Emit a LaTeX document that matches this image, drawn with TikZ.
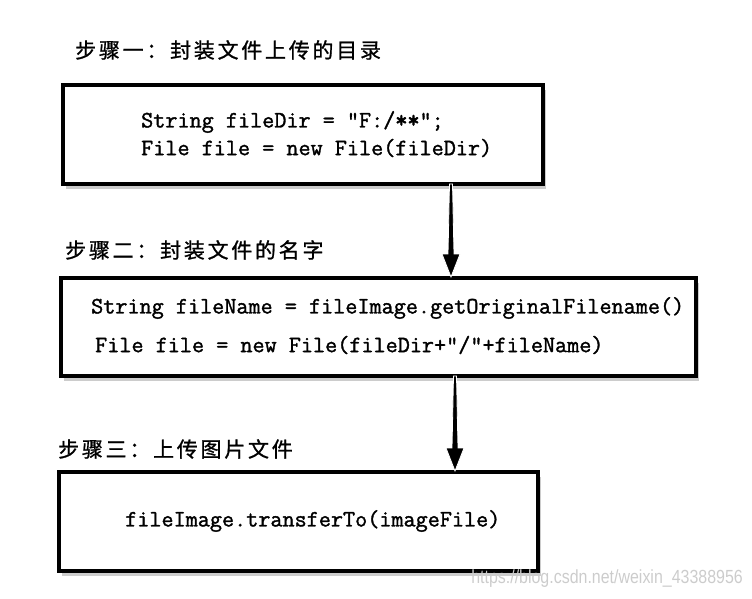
\documentclass[tikz,border=0pt]{standalone}
\usepackage{fontspec}
\newfontfamily\cjk[LetterSpace=13,FakeBold=1]{Noto Sans CJK SC}
\newfontfamily\codefont[FakeBold=1.4]{Latin Modern Mono}
\newfontfamily\wmfont[FakeStretch=0.84]{Liberation Sans}
\usetikzlibrary{calc,shadows}
\tikzset{
  box/.style={draw=black, line width=4pt, fill=white, rectangle, inner sep=0pt,
    drop shadow={shadow xshift=2.5pt, shadow yshift=-4.5pt, opacity=0.4, fill=gray}},
  steplabel/.style={anchor=west, inner sep=0pt, font=\fontsize{21}{24}\selectfont\cjk},
  code/.style={anchor=west, inner sep=0pt, align=left, font=\fontsize{23.5}{26}\selectfont\codefont},
  arrowshape/.style={fill=black, draw=white, line width=0.8pt, line join=miter}
}
\begin{document}
\begin{tikzpicture}[x=1pt,y=-1pt]
\useasboundingbox (0,0) rectangle (752,598);
% labels
\node[steplabel] (l1) at (75,50) {步骤一：封装文件上传的目录};
\node[steplabel] (l2) at (65,250) {步骤二：封装文件的名字};
\node[steplabel] (l3) at (58,449) {步骤三：上传图片文件};
% boxes
\node[box, minimum width=480pt, minimum height=99pt] (b1) at (303,134.5) {};
\node[box, minimum width=635pt, minimum height=98pt] (b2) at (378.5,327) {};
\node[box, minimum width=479pt, minimum height=99pt] (b3) at (298.5,521.5) {};
% code
\node[code] (c1a) at (141,122) {String fileDir = "F:/{\addfontfeature{FakeBold=3}**}";};
\node[code] (c1b) at (141,148) {File file = new File(fileDir)};
\node[code] (c2a) at (91,308) {String fileName = fileImage.getOriginalFilename()};
\node[code] (c2b) at (95,345) {File file = new File(fileDir+"/"+fileName)};
\node[code] (c3) at (125,521) {fileImage.transferTo(imageFile)};
% arrows (tapered shaft with long head)
\coordinate (x1) at (451,0);
\coordinate (x2) at (455,0);
\coordinate (s1) at ($(b1.south -| x1)+(0,-2)$);
\coordinate (t1) at ($(b2.north -| x1)+(0,1)$);
\coordinate (s2) at ($(b2.south -| x2)+(0,-2)$);
\coordinate (t2) at ($(b3.north -| x2)+(0,1)$);
\foreach \s/\t in {s1/t1, s2/t2}{
  \filldraw[arrowshape]
    ($(\s)+(-1.5,0)$) -- ($(\s)+(1.5,0)$)
    -- ($(\t)+(3,-23)$) -- ($(\t)+(9,-23)$) -- (\t)
    -- ($(\t)+(-9,-23)$) -- ($(\t)+(-3,-23)$) -- cycle;
}
% watermark
\node[anchor=east, inner sep=0pt, text=black!20, font=\fontsize{19}{20}\selectfont\wmfont] (wm) at (743,579) {https://blog.csdn.net/weixin\_43388956};
\end{tikzpicture}
\end{document}
